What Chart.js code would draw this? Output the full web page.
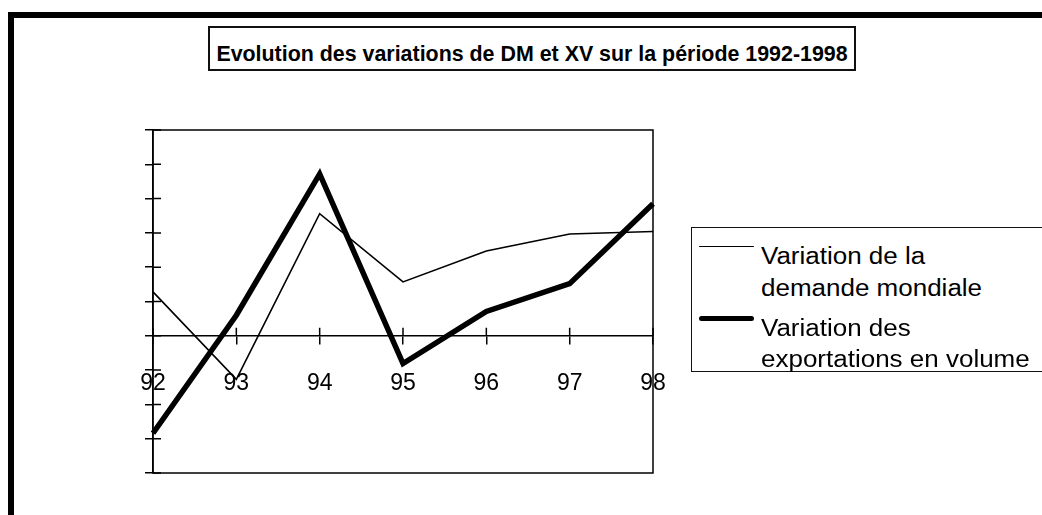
<!DOCTYPE html>
<html lang="fr">
<head>
<meta charset="UTF-8" />
<title>Evolution DM et XV</title>
<script src="https://cdn.jsdelivr.net/npm/chart.js"></script>
<style>
  html, body { margin: 0; padding: 0; background: #fff; overflow: hidden; }
  body { width: 1042px; height: 515px; position: relative; font-family: "Liberation Sans", Arial, sans-serif; }
  .cadre { position: absolute; left: 8px; top: 12px; width: 1100px; height: 600px; border: 6px solid #000; }
  .titre {
    position: absolute; left: 208px; top: 26px; width: 644px; height: 41px;
    border: 2px solid #111; background: #fff;
    font-weight: bold; font-size: 21.4px; line-height: 52.6px; text-align: center; color: #000;
    white-space: nowrap; overflow: visible;
  }
  .titre span { display: block; height: 41px; }
  .legende {
    position: absolute; left: 691px; top: 227px; width: 400px; height: 143px;
    border: 1.5px solid #111; background: #fff;
  }
  .item { position: absolute; left: 0; }
  .trait { position: absolute; left: 7px; width: 55px; background: #000; border-radius: 3px; }
  .texte {
    position: absolute; left: 69px; top: 0; font-size: 23px; line-height: 31.5px; color: #000;
    white-space: nowrap; transform: scaleX(1.13); transform-origin: left top;
  }
  .zone { position: absolute; left: 0; top: 0; width: 1042px; height: 515px; }
</style>
</head>
<body>
<div class="cadre"></div>
<div class="zone"><canvas id="graphique"></canvas></div>
<div class="titre"><span id="titre"></span></div>
<div class="legende" id="legende"></div>

<script>
  const titre = 'Evolution des variations de DM et XV sur la période 1992-1998';
  const annees = ['92', '93', '94', '95', '96', '97', '98'];
  const demandeMondiale = [1.28, -1.27, 3.56, 1.57, 2.47, 2.97, 3.04];
  const exportationsVolume = [-2.84, 0.6, 4.72, -0.81, 0.71, 1.52, 3.85];
  const lignesDemande = ['Variation de la', 'demande mondiale'];
  const lignesExport = ['Variation des', 'exportations en volume'];
  const yMin = -4, yMax = 6, yPas = 1;

  document.getElementById('titre').textContent = titre;

  // legende en html (texte sur deux lignes)
  const legende = document.getElementById('legende');
  const entrees = [
    { lignes: lignesDemande, epaisseur: 1.6, haut: 13 },
    { lignes: lignesExport, epaisseur: 5, haut: 84.5 }
  ];
  entrees.forEach(e => {
    const item = document.createElement('div');
    item.className = 'item';
    item.style.top = e.haut + 'px';
    const trait = document.createElement('div');
    trait.className = 'trait';
    trait.style.height = e.epaisseur + 'px';
    trait.style.top = (5.5 - e.epaisseur / 2) + 'px';
    const texte = document.createElement('div');
    texte.className = 'texte';
    texte.innerHTML = e.lignes.join('<br>');
    item.appendChild(trait);
    item.appendChild(texte);
    legende.appendChild(item);
  });

  // cadre du graphique + demi-graduations vers l'interieur
  const cadrePlugin = {
    id: 'cadre',
    afterDraw(chart) {
      const { ctx, chartArea: a, scales: { x, y } } = chart;
      ctx.save();
      ctx.strokeStyle = '#000';
      ctx.lineWidth = 1.5;
      ctx.strokeRect(a.left, a.top, a.right - a.left, a.bottom - a.top);
      const y0 = y.getPixelForValue(0);
      ctx.beginPath();
      x.ticks.forEach((t, i) => {
        const px = x.getPixelForTick(i);
        ctx.moveTo(px, y0 - 8);
        ctx.lineTo(px, y0);
      });
      y.ticks.forEach((t, i) => {
        const py = y.getPixelForTick(i);
        ctx.moveTo(a.left, py);
        ctx.lineTo(a.left + 8, py);
      });
      ctx.stroke();
      ctx.restore();
    }
  };

  new Chart(document.getElementById('graphique'), {
    type: 'line',
    data: {
      labels: annees,
      datasets: [
        {
          label: lignesDemande.join(' '),
          data: demandeMondiale,
          borderColor: '#000',
          borderWidth: 1.6,
          pointRadius: 0,
          tension: 0
        },
        {
          label: lignesExport.join(' '),
          data: exportationsVolume,
          borderColor: '#000',
          borderWidth: 5.5,
          borderJoinStyle: 'miter',
          pointRadius: 0,
          tension: 0
        }
      ]
    },
    options: {
      responsive: true,
      maintainAspectRatio: false,
      animation: false,
      layout: { padding: { left: 145, right: 389, top: 130, bottom: 42 } },
      plugins: { legend: { display: false }, title: { display: false }, tooltip: { enabled: false } },
      scales: {
        x: {
          type: 'category',
          position: { y: 0 },
          offset: false,
          grid: { drawOnChartArea: false, drawTicks: true, tickLength: 8, color: '#000', lineWidth: 1.5 },
          border: { display: true, color: '#000', width: 1.5 },
          ticks: {
            color: '#000', padding: 26, maxRotation: 0, autoSkip: false,
            font: { family: '"Liberation Sans", Arial, sans-serif', size: 23 }
          }
        },
        y: {
          min: yMin,
          max: yMax,
          grid: { drawOnChartArea: false, drawTicks: true, tickLength: 8, color: '#000', lineWidth: 1.5 },
          border: { display: true, color: '#000', width: 1.5 },
          ticks: { display: false, stepSize: yPas }
        }
      }
    },
    plugins: [cadrePlugin]
  });
</script>
</body>
</html>
